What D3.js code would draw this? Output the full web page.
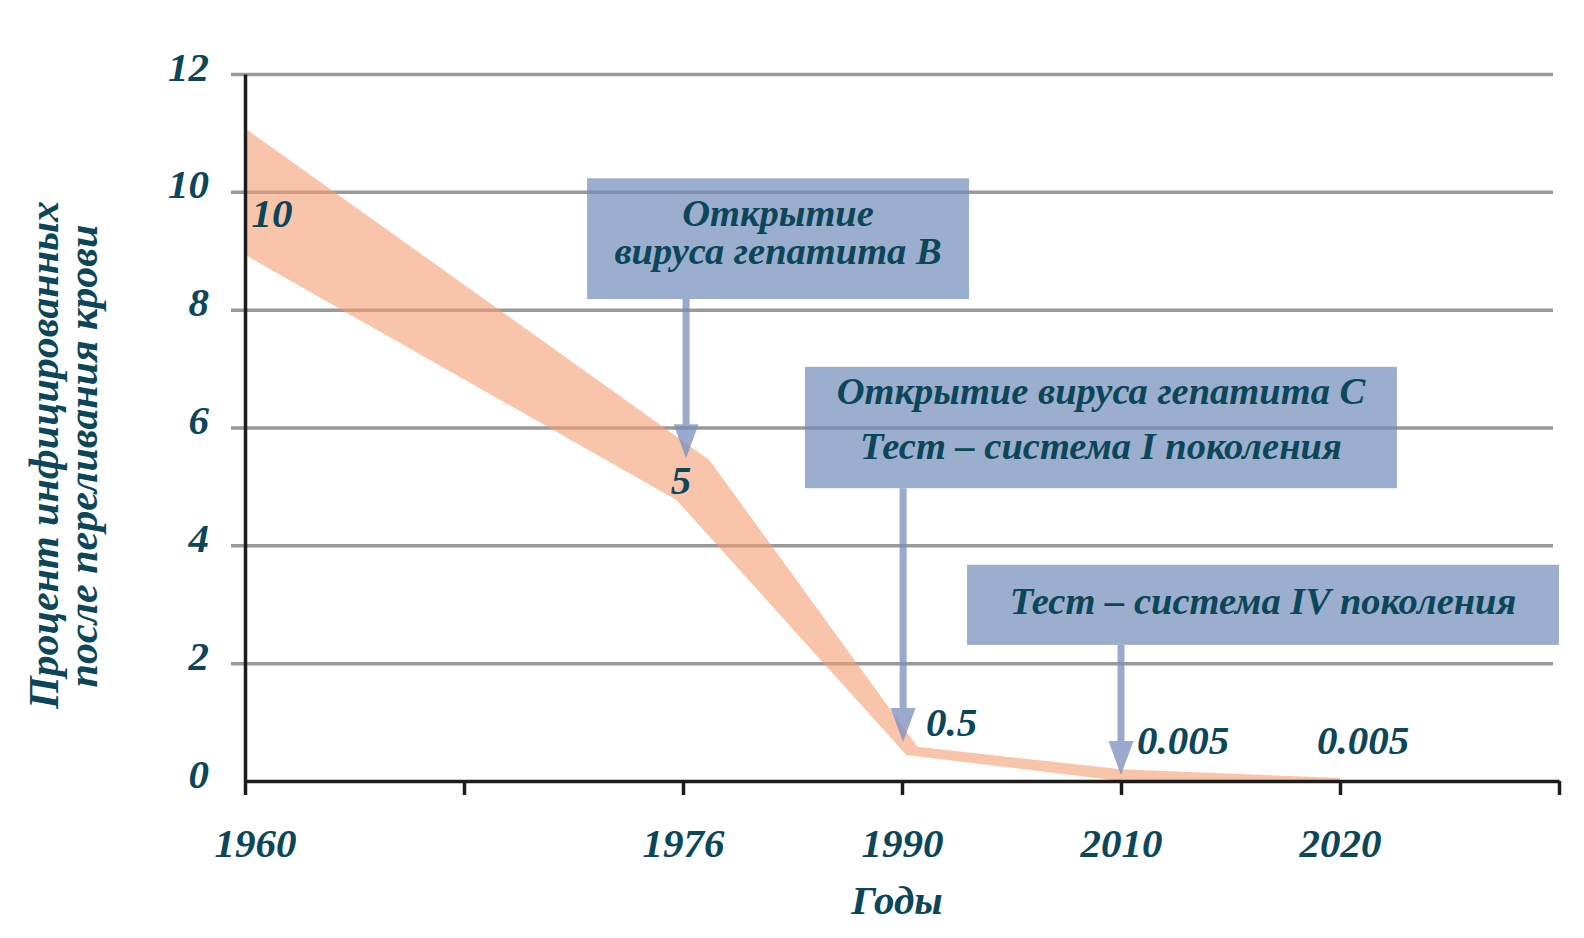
<!DOCTYPE html>
<html>
<head>
<meta charset="utf-8">
<script src="https://cdn.jsdelivr.net/npm/d3@7"></script>
<style>
  html, body { margin: 0; padding: 0; background: #ffffff; }
  svg { display: block; }
  text { font-family: "Liberation Serif", "Times New Roman", serif; font-weight: bold; font-style: italic; }
</style>
</head>
<body>
<svg id="chart" width="1584" height="938"></svg>
<script>
// ---------------- DATA ----------------
const xLabels = ["1960", "", "1976", "1990", "2010", "2020", ""];   // category slots
const yTicks = [0, 2, 4, 6, 8, 10, 12];
const pointSlots = [0, 2, 3, 4, 5];
const pointValues = [10, 5, 0.5, 0.005, 0.005];
const pointLabels = ["10", "5", "0.5", "0.005", "0.005"];
// band edges: [slot position, percent]
const bandUpper = [[0, 11.08], [2.12, 5.45], [3.07, 0.58], [4.0, 0.2], [5.0, 0.05]];
const bandLower = [[0, 8.93], [1.97, 4.77], [3.02, 0.44], [4.0, 0.0], [5.0, 0.0]];
// annotation boxes: slot range, value range, text lines
const boxSlots = [[1.562, 3.306], [2.557, 5.26], [3.297, 6.0]];
const boxValues = [[10.23, 8.18], [7.03, 4.97], [3.67, 2.31]];
const boxTexts = [
  ["Открытие", "вируса гепатита В"],
  ["Открытие вируса гепатита С", "Тест – система I поколения"],
  ["Тест – система IV поколения"]
];
const arrowSlots = [2.014, 3.005, 4.0];
const arrowTipValues = [5.48, 0.66, 0.1];
const yTitle = ["Процент инфицированных", "после переливания крови"];
const xTitle = "Годы";

// ---------------- LAYOUT / STYLE ----------------
const svg = d3.select("#chart");
const mLeft = 245, mRight = 1559, mTop = 74, mBottom = 781;
const x = d3.scaleLinear().domain([0, xLabels.length - 1]).range([mLeft, mRight]);
const y = d3.scaleLinear().domain([0, 12]).range([mBottom, mTop]);
const textColor = "#0b4659";
const boxFill = "rgb(112,139,185)";
const arrowFill = "rgb(120,142,190)";

// gridlines
const grid = svg.append("g").attr("transform", `translate(231,0)`)
  .call(d3.axisLeft(y).tickValues(yTicks.filter(v => v > 0)).tickSize(-(1553 - 231)).tickFormat(""));
grid.select(".domain").remove();
grid.selectAll("line").attr("stroke", "#9a9a9a").attr("stroke-width", 3.5);

// band polygon: upper edge then reversed lower edge
const poly = bandUpper.map(d => [x(d[0]), y(d[1])])
  .concat(bandLower.slice().reverse().map(d => [x(d[0]), y(d[1])]));
svg.append("path")
  .attr("d", d3.line()(poly) + "Z")
  .attr("fill", "rgb(245,158,113)")
  .attr("fill-opacity", 0.6);

// boxes
boxSlots.forEach((s, i) => {
  svg.append("rect")
    .attr("x", x(s[0])).attr("width", x(s[1]) - x(s[0]))
    .attr("y", y(boxValues[i][0])).attr("height", y(boxValues[i][1]) - y(boxValues[i][0]))
    .attr("fill", boxFill).attr("fill-opacity", 0.7);
});

// arrows
arrowSlots.forEach((s, i) => {
  const ax = x(s);
  const y0 = y(boxValues[i][1]);
  const tip = y(arrowTipValues[i]);
  const headH = 34, headW = 25, shaftW = 7;
  svg.append("path")
    .attr("d", `M${ax - shaftW / 2},${y0} L${ax + shaftW / 2},${y0} L${ax + shaftW / 2},${tip - headH} L${ax + headW / 2},${tip - headH} L${ax},${tip} L${ax - headW / 2},${tip - headH} L${ax - shaftW / 2},${tip - headH} Z`)
    .attr("fill", arrowFill).attr("fill-opacity", 0.75);
});

// box texts
const boxBaselines = [[226, 264], [404, 459], [614]];
boxTexts.forEach((lines, i) => {
  const cx = (x(boxSlots[i][0]) + x(boxSlots[i][1])) / 2;
  lines.forEach((t, j) => {
    svg.append("text").attr("x", cx).attr("y", boxBaselines[i][j])
      .attr("text-anchor", "middle").attr("font-size", 38.5).attr("fill", textColor).text(t);
  });
});

// x axis
const xAxis = svg.append("g").attr("transform", `translate(0,${mBottom})`)
  .call(d3.axisBottom(x).tickValues(d3.range(xLabels.length)).tickFormat(i => xLabels[i]).tickSize(14).tickSizeOuter(0).tickPadding(33));
xAxis.select(".domain").attr("stroke", "#1c1c1c").attr("stroke-width", 3.5);
xAxis.selectAll(".tick line").attr("stroke", "#1c1c1c").attr("stroke-width", 3.5);
xAxis.selectAll(".tick text").attr("font-size", 41).attr("fill", textColor)
  .attr("dx", (d, i) => i === 0 ? 10 : 0);
xAxis.attr("font-family", null);

// y axis
const yAxis = svg.append("g").attr("transform", `translate(${mLeft},0)`)
  .call(d3.axisLeft(y).tickValues(yTicks).tickSize(0).tickSizeOuter(0).tickPadding(36));
yAxis.select(".domain").attr("stroke", "#1c1c1c").attr("stroke-width", 3.5);
yAxis.selectAll(".tick text").attr("font-size", 41).attr("fill", textColor)
  .attr("dy", "0.15em");
yAxis.attr("font-family", null);

// point labels
const labelOffsets = [[27, 35, "middle"], [-2, 8, "middle"], [24, -16, "start"], [16, -27, "start"], [-23, -27, "start"]];
pointSlots.forEach((s, i) => {
  svg.append("text")
    .attr("x", x(s) + labelOffsets[i][0]).attr("y", y(pointValues[i]) + labelOffsets[i][1])
    .attr("text-anchor", labelOffsets[i][2]).attr("font-size", 41).attr("fill", textColor)
    .text(pointLabels[i]);
});

// axis titles
svg.append("text").attr("x", 897).attr("y", 914).attr("text-anchor", "middle")
  .attr("font-size", 41).attr("fill", textColor).text(xTitle);
[58, 97].forEach((bx, i) => {
  svg.append("text").attr("transform", `translate(${bx},${i === 0 ? 455 : 456}) rotate(-90)`)
    .attr("text-anchor", "middle").attr("font-size", 42).attr("fill", textColor).text(yTitle[i]);
});
</script>
</body>
</html>
